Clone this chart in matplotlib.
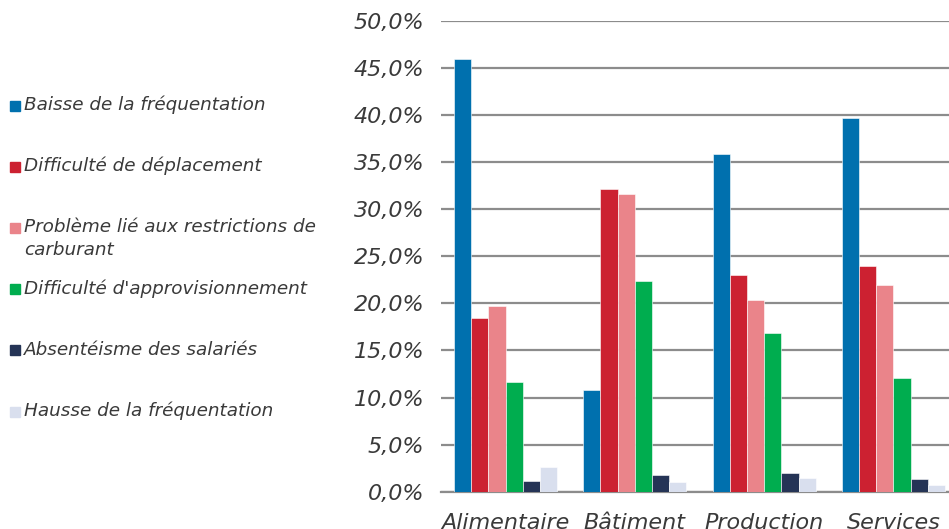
import matplotlib.pyplot as plt
from matplotlib.patches import Rectangle
import numpy as np

plt.rcParams['font.family'] = ['DejaVu Sans']

secteurs = ['Alimentaire', 'Bâtiment', 'Production', 'Services']
motifs = ['Baisse de la fréquentation',
          'Difficulté de déplacement',
          'Problème lié aux restrictions de\ncarburant',
          "Difficulté d'approvisionnement",
          'Absentéisme des salariés',
          'Hausse de la fréquentation']

# parts en % par secteur (un tableau par motif)
baisse_frequentation = [46.0, 10.8, 35.9, 39.7]
difficulte_deplacement = [18.5, 32.2, 23.0, 24.0]
restrictions_carburant = [19.7, 31.6, 20.4, 22.0]
difficulte_appro = [11.7, 22.4, 16.9, 12.1]
absenteisme = [1.1, 1.75, 1.95, 1.4]
hausse_frequentation = [2.6, 1.0, 1.45, 0.7]

series = [baisse_frequentation, difficulte_deplacement, restrictions_carburant,
          difficulte_appro, absenteisme, hausse_frequentation]
couleurs = ['#0070ae', '#cc2131', '#ea848a', '#00ad4f', '#253456', '#d9dfee']
texte = '#3a3a3a'

fig = plt.figure(figsize=(9.49, 5.29), dpi=100)
# axes plus large que la figure : le dernier groupe est coupe a droite
ax = fig.add_axes([441 / 949, 37.3 / 529, 517 / 949, 470.7 / 529])

x = np.arange(len(secteurs))
w = 0.133
for i, (vals, c) in enumerate(zip(series, couleurs)):
    ax.bar(x + (i - 2.5) * w, vals, width=w, color=c, edgecolor='white',
           linewidth=0.4, zorder=3)

ax.set_xlim(-0.5, 3.5)
ax.set_ylim(0, 50)
ax.set_yticks(np.arange(0, 51, 5))
ax.yaxis.set_major_formatter(plt.FuncFormatter(lambda v, p: ('%.1f%%' % v).replace('.', ',')))
ax.grid(axis='y', color='#8c8c8c', linewidth=1.6, zorder=0)
ax.set_xticks(x)
ax.set_xticklabels(secteurs)

for s in ['top', 'right', 'left']:
    ax.spines[s].set_visible(False)
ax.spines['bottom'].set_color('#8c8c8c')
ax.spines['bottom'].set_linewidth(1.6)
ax.tick_params(axis='both', length=0, colors=texte, labelsize=16)
ax.tick_params(axis='y', pad=12)
ax.tick_params(axis='x', pad=15)
for lab in ax.get_xticklabels() + ax.get_yticklabels():
    lab.set_fontstyle('italic')

# legende a gauche, dessinee a la main
for i, (m, c) in enumerate(zip(motifs, couleurs)):
    yc = 1 - (105 + 61.2 * i) / 529
    fig.patches.append(Rectangle((10 / 949, yc - 5.5 / 529), 10 / 949, 10 / 529,
                                 transform=fig.transFigure, color=c))
    lignes = m.split('\n')
    for k, l in enumerate(lignes):
        fig.text(24 / 949, yc - k * 23 / 529, l, fontsize=13.2, style='italic',
                 color=texte, va='center', ha='left')

fig.savefig('out.png', dpi=100)
